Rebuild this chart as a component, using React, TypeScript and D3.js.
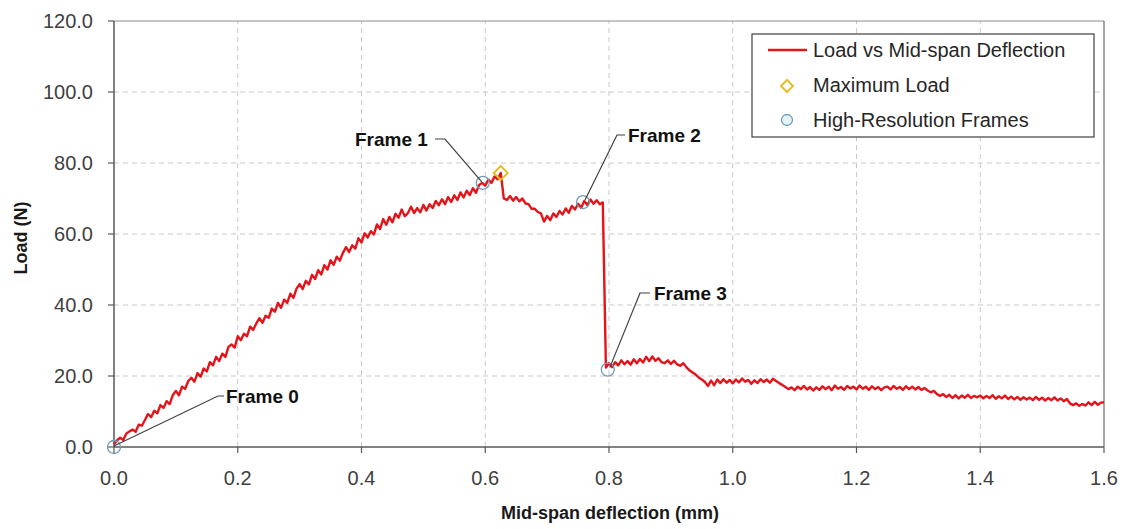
import React, { useLayoutEffect } from "react";
import * as d3 from "d3";

// Sampling step of the recorded deflection (mm)
const STEP = 0.005;

// Load (N) sampled every 0.005 mm of mid-span deflection, 0.000 .. 1.600
const loads: number[] = [
  0.8, 1.9, 2.6, 2.0, 3.8, 4.4, 4.9, 4.3, 6.3, 6.0,
  7.6, 9.3, 8.4, 10.2, 9.5, 11.8, 11.0, 12.9, 12.1, 14.6,
  15.8, 14.6, 17.0, 16.4, 18.6, 19.5, 18.4, 20.8, 19.8, 22.1,
  21.3, 23.9, 23.0, 25.4, 24.2, 26.3, 25.4, 28.2, 28.9, 28.0,
  31.2, 30.1, 31.9, 31.2, 33.9, 33.0, 34.8, 36.3, 35.0, 37.0,
  36.4, 39.0, 38.1, 40.6, 39.2, 41.5, 40.6, 43.2, 42.0, 44.6,
  45.9, 44.5, 46.8, 45.8, 48.5, 47.3, 49.8, 48.6, 51.2, 50.0,
  52.6, 51.3, 53.6, 52.5, 54.7, 56.3, 54.9, 56.8, 55.9, 58.8,
  57.6, 60.2, 59.0, 60.8, 59.9, 62.7, 61.4, 64.2, 62.6, 64.8,
  63.3, 65.7, 64.6, 66.9, 65.0, 65.9, 67.7, 65.9, 67.3, 66.1,
  68.2, 66.6, 68.4, 67.3, 69.3, 68.1, 69.8, 68.4, 70.4, 69.0,
  70.9, 69.6, 71.7, 70.3, 72.2, 71.0, 72.9, 71.6, 73.8, 74.4,
  73.6, 75.3, 74.4, 76.2, 75.4, 77.2, 70.0, 69.6, 70.7, 69.4,
  70.4, 69.2, 70.0, 68.6, 68.4, 67.1, 67.1, 66.2, 65.8, 63.5,
  65.1, 63.9, 65.8, 64.8, 66.5, 65.5, 67.2, 66.0, 67.9, 66.9,
  68.5, 67.4, 69.3, 68.2, 69.7, 68.5, 69.5, 68.4, 68.9, 22.4,
  23.6, 22.5, 23.9, 23.0, 24.4, 23.3, 24.2, 23.2, 24.7, 23.6,
  24.8, 23.8, 25.4, 24.2, 25.5, 24.3, 25.0, 23.9, 23.6, 24.4,
  23.4, 24.3, 23.3, 22.9, 23.6, 22.5, 21.6, 21.0, 20.4, 19.6,
  19.0, 18.3, 17.2, 18.7, 17.4, 19.0, 18.0, 19.1, 18.1, 18.9,
  17.9, 19.0, 18.2, 19.3, 18.4, 18.9, 17.8, 18.8, 18.0, 19.1,
  18.3, 19.0, 18.1, 19.2, 18.6, 18.0, 17.5, 16.9, 16.3, 16.8,
  16.0, 17.0, 16.3, 17.2, 16.2, 16.9, 15.9, 16.8, 16.1, 17.1,
  16.3, 17.0, 16.0, 17.3, 16.4, 16.9, 16.1, 17.2, 16.5, 17.0,
  16.2, 17.3, 16.4, 17.0, 16.1, 17.1, 16.3, 16.9, 16.0, 16.8,
  17.0, 16.2, 17.2, 16.4, 16.9, 16.1, 17.1, 16.3, 17.0, 16.2,
  16.9, 16.1, 16.6, 15.9, 15.4, 15.8, 14.9, 14.4, 14.9, 14.1,
  14.7, 13.8, 14.6, 13.7, 14.5, 13.9, 14.7, 13.8, 14.4, 14.0,
  14.5, 13.7, 14.4, 13.8, 14.6, 13.6, 14.3, 13.7, 14.5, 13.5,
  14.2, 13.4, 14.1, 13.3, 14.0, 13.4, 13.9, 13.2, 14.1, 13.3,
  13.9, 13.1, 13.8, 13.2, 14.0, 13.1, 13.7, 12.9, 13.5, 12.3,
  11.8, 12.3, 11.6, 12.1, 11.7, 12.6, 11.8, 12.7, 11.9, 12.5,
  12.6,
];

const maxLoad = { x: 0.625, y: 77.2 };

const frameNames = ["Frame 0", "Frame 1", "Frame 2", "Frame 3"];
const frameX = [0.0, 0.596, 0.758, 0.798];
const frameY = [0.0, 74.4, 69.0, 21.8];

const xTicks = [0, 0.2, 0.4, 0.6, 0.8, 1.0, 1.2, 1.4, 1.6];
const yTicks = [0, 20, 40, 60, 80, 100, 120];

const legendLabels = ["Load vs Mid-span Deflection", "Maximum Load", "High-Resolution Frames"];

const W = 1126;
const H = 529;
const FONT = "'Liberation Sans', Arial, sans-serif";
const RED = "#e3141a";
const GRID = "#c9c9c9";
const AXIS = "#595959";
const FRAME_STROKE = "#6e9db4";
const DIAMOND = "#e3c02a";

export default function App() {
  useLayoutEffect(() => {
    document.body.style.margin = "0";
  }, []);

  const x = d3.scaleLinear().domain([0, 1.6]).range([114, 1104]);
  const y = d3.scaleLinear().domain([0, 120]).range([447, 21]);

  const pts: [number, number][] = loads.map((v, i) => [i * STEP, v]);
  const line = d3
    .line<[number, number]>()
    .x((d) => x(d[0]))
    .y((d) => y(d[1]));

  // annotation label positions (pixel anchors near the frames)
  const labelPos = [
    { tx: 226, ty: 396, hx0: 218, hx1: 224, side: "right" },
    { tx: 355, ty: 139, hx0: 435, hx1: 445, side: "left" },
    { tx: 628, ty: 135, hx0: 617, hx1: 625, side: "right" },
    { tx: 654, ty: 293, hx0: 640, hx1: 650, side: "right" },
  ];

  const diamond = (cx: number, cy: number, r: number) =>
    `M${cx},${cy - r}L${cx + r},${cy}L${cx},${cy + r}L${cx - r},${cy}Z`;

  const x0 = x(0), x1 = x(1.6), y0 = y(0), y1 = y(120);

  return (
    <svg width={W} height={H} style={{ display: "block", background: "#fff" }} fontFamily={FONT}>
      <rect x={0} y={0} width={W} height={H} fill="#fff" />
      {/* grid */}
      {yTicks.filter((t) => t > 0 && t < 120).map((t) => (
        <line key={"gy" + t} x1={x0} x2={x1} y1={y(t)} y2={y(t)} stroke={GRID} strokeWidth={1} strokeDasharray="5,4" />
      ))}
      {xTicks.filter((t) => t > 0 && t < 1.6).map((t) => (
        <line key={"gx" + t} x1={x(t)} x2={x(t)} y1={y0} y2={y1} stroke={GRID} strokeWidth={1} strokeDasharray="5,4" />
      ))}
      {/* plot border */}
      <line x1={x0} x2={x1} y1={y1} y2={y1} stroke="#8a8a8a" strokeWidth={1} />
      <line x1={x1} x2={x1} y1={y1} y2={y0} stroke="#6a6a6a" strokeWidth={1.2} />
      <line x1={x0} x2={x0} y1={y1} y2={y0} stroke={AXIS} strokeWidth={1.5} />
      <line x1={x0} x2={x1} y1={y0} y2={y0} stroke={AXIS} strokeWidth={1.5} />
      {/* ticks */}
      {yTicks.map((t) => (
        <g key={"ty" + t}>
          <line x1={x0 - 6} x2={x0} y1={y(t)} y2={y(t)} stroke={AXIS} strokeWidth={1.2} />
          <text x={93} y={y(t)} textAnchor="end" dominantBaseline="central" fontSize={20} fill="#404040">
            {t.toFixed(1)}
          </text>
        </g>
      ))}
      {xTicks.map((t) => (
        <g key={"tx" + t}>
          <line x1={x(t)} x2={x(t)} y1={y0} y2={y0 + 6} stroke={AXIS} strokeWidth={1.2} />
          <text x={x(t)} y={478} textAnchor="middle" dominantBaseline="central" fontSize={20} fill="#404040">
            {t.toFixed(1)}
          </text>
        </g>
      ))}
      {/* axis titles */}
      <text x={610} y={513} textAnchor="middle" dominantBaseline="central" fontSize={18} fontWeight="bold" fill="#1a1a1a">
        Mid-span deflection (mm)
      </text>
      <text
        transform={`translate(21,238) rotate(-90)`}
        textAnchor="middle"
        dominantBaseline="central"
        fontSize={18}
        fontWeight="bold"
        fill="#1a1a1a"
      >
        Load (N)
      </text>

      {/* data line */}
      <path d={line(pts) || ""} fill="none" stroke={RED} strokeWidth={2.4} strokeLinejoin="round" />

      {/* frame markers */}
      {frameX.map((fx, i) => (
        <circle key={"fc" + i} cx={x(fx)} cy={y(frameY[i])} r={6.5} fill="none" stroke={FRAME_STROKE} strokeWidth={1.3} />
      ))}
      {/* max load */}
      <path d={diamond(x(maxLoad.x), y(maxLoad.y), 7)} fill="none" stroke={DIAMOND} strokeWidth={2} />

      {/* annotations */}
      {frameNames.map((name, i) => {
        const p = labelPos[i];
        const fx = x(frameX[i]);
        const fy = y(frameY[i]);
        const joint = p.side === "right" ? p.hx0 : p.hx1;
        const other = p.side === "right" ? p.hx1 : p.hx0;
        return (
          <g key={"an" + i}>
            <polyline
              points={`${other},${p.ty} ${joint},${p.ty} ${fx + (i === 0 ? 0 : i === 1 ? -1 : 2)},${fy + (i === 0 ? -1 : i === 1 ? -1 : -2)}`}
              fill="none"
              stroke="#404040"
              strokeWidth={1.2}
            />
            <text x={p.tx} y={p.ty} dominantBaseline="central" fontSize={19} fontWeight="bold" fill="#111">
              {name}
            </text>
          </g>
        );
      })}

      {/* legend */}
      <rect x={752} y={34} width={342} height={103} fill="#fff" stroke="#404040" strokeWidth={1.2} />
      <line x1={768} x2={807} y1={50} y2={50} stroke={RED} strokeWidth={2.4} />
      <path d={diamond(787, 86, 6)} fill="#fff" stroke={DIAMOND} strokeWidth={2} />
      <circle cx={787} cy={120} r={5.5} fill="#e6f3f6" stroke={FRAME_STROKE} strokeWidth={1.3} />
      {legendLabels.map((l, i) => (
        <text key={"lg" + i} x={813} y={50 + i * 35} dominantBaseline="central" fontSize={20} fill="#262626">
          {l}
        </text>
      ))}
    </svg>
  );
}
